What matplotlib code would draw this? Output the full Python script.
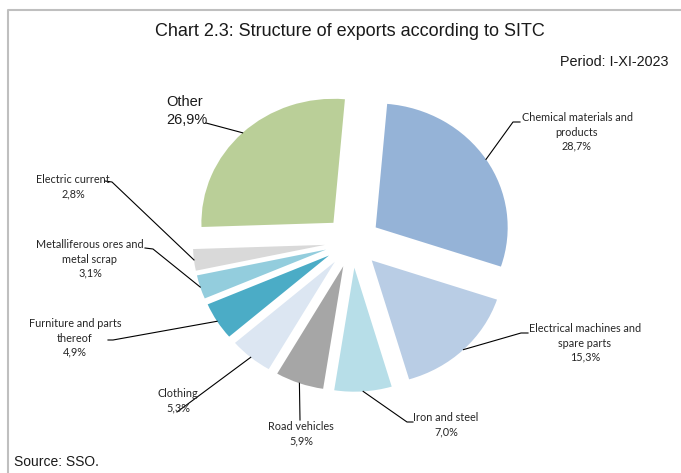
import matplotlib
matplotlib.use('Agg')
import matplotlib.pyplot as plt
import numpy as np

categories = ['Chemical materials and\nproducts', 'Electrical machines and\nspare parts',
              'Iron and steel', 'Road vehicles', 'Clothing', 'Furniture and parts\nthereof',
              'Metalliferous ores and\nmetal scrap', 'Electric current', 'Other']
shares = [28.7, 15.3, 7.0, 5.9, 5.3, 4.9, 3.1, 2.8, 26.9]
colors = ['#95b3d7', '#b9cde5', '#b7dee8', '#a6a6a6', '#dce6f2', '#4bacc6',
          '#93cddd', '#d9d9d9', '#bacf98']

W, H = 681, 473
fig = plt.figure(figsize=(W / 100, H / 100), dpi=100)

# pie axes: unit circle, slightly squashed vertically like the original
cx, cy, sx, sy = 352.5, 241.7, 132.0, 124.0
ax = fig.add_axes([0, 0, 1, 1])
wedges, _ = ax.pie(shares, colors=colors, radius=1, center=(0, 0), startangle=85,
                   counterclock=False, explode=[0.21] * len(shares),
                   wedgeprops=dict(linewidth=0))
ax.set_aspect('auto')
ax.set_xlim(-cx / sx, (W - cx) / sx)
ax.set_ylim(-(H - cy) / sy, cy / sy)
ax.axis('off')

# overlay in pixel coords (y down) for text, frame and leader lines
ov = fig.add_axes([0, 0, 1, 1], facecolor='none')
ov.set_xlim(0, W)
ov.set_ylim(H, 0)
ov.axis('off')

ov.plot([8, 8, W], [H, 10, 10], color='#bfbfbf', lw=1.5, solid_capstyle='butt')

ov.text(350, 31, 'Chart 2.3: Structure of exports according to SITC', ha='center', va='center',
        fontsize=13, family='Liberation Sans', color='#1a1a1a')
ov.text(668, 62, 'Period: I-XI-2023', ha='right', va='center', fontsize=10.4,
        family='Liberation Sans', color='#1a1a1a')
ov.text(14, 462, 'Source: SSO.', ha='left', va='center', fontsize=10,
        family='Liberation Sans', color='#1a1a1a')

# label layout: text anchor and leader elbow points (pixels)
layout = [
    ((577, 132), [(520, 122), (513, 122)]),
    ((585, 343), [(528, 333), (521, 333)]),
    ((446, 425), [(413, 422), (407, 422)]),
    ((301, 434), [(300, 420)]),
    ((178, 401), [(177, 412)]),
    ((75, 338), [(108, 340), (113, 340)]),
    ((90, 259), [(145, 248), (153, 249)]),
    ((73, 187), [(105, 181), (112, 182)]),
    ((166, 111), [(206, 123)]),
]

to_px = ov.transData.inverted()
for w, name, val, (tpos, elbow) in zip(wedges, categories, shares, layout):
    th = np.deg2rad((w.theta1 + w.theta2) / 2)
    px = w.center[0] + w.r * np.cos(th)
    py = w.center[1] + w.r * np.sin(th)
    ax_pt = to_px.transform(ax.transData.transform((px, py)))
    pts = elbow + [tuple(ax_pt)]
    ov.plot([p[0] for p in pts], [p[1] for p in pts], color='black', lw=0.8)
    label = name + '\n' + ('%.1f' % val).replace('.', ',') + '%'
    if name == 'Other':
        ov.text(tpos[0], tpos[1], label, ha='left', va='center', fontsize=10.5,
                family='Liberation Sans', color='#1a1a1a', linespacing=1.35,
                multialignment='left')
    else:
        ov.text(tpos[0], tpos[1], label, ha='center', va='center', fontsize=7.8,
                family='Lato', color='#262626', linespacing=1.35)

fig.savefig('out.png', dpi=100)
